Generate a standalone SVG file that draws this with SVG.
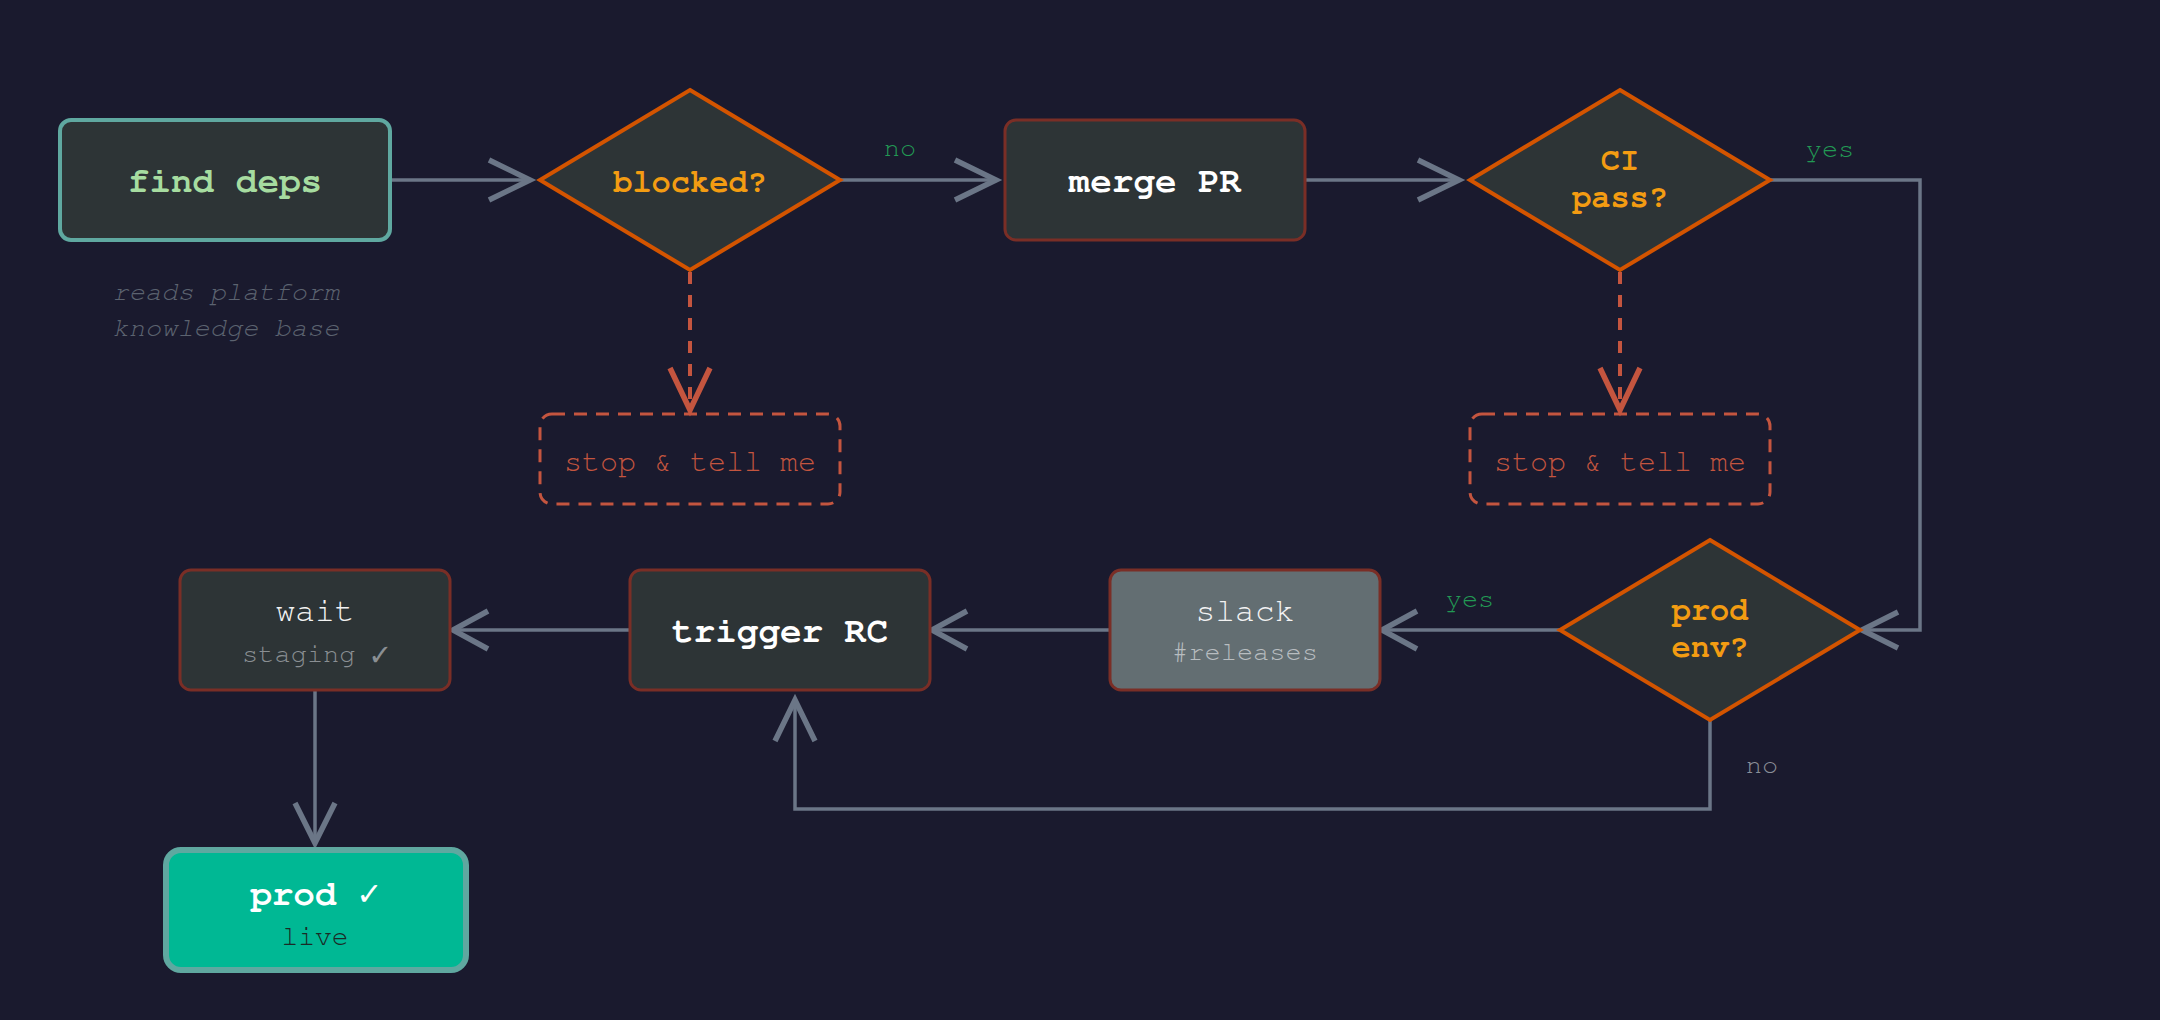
<svg xmlns="http://www.w3.org/2000/svg" width="2160" height="1020" viewBox="0 0 2160 1020">
<style>
text{font-family:"Nimbus Mono PS","Nimbus Mono L","FreeMono","Courier","Courier New","Liberation Mono",monospace;text-anchor:middle}
.box{fill:#2d3436;stroke:#7a2e26;stroke-width:3}
.dia{fill:#2d3436;stroke:#d35400;stroke-width:4;stroke-linejoin:miter}
.title{font-size:36px;font-weight:bold;fill:#ffffff}
.dtxt{font-size:32px;font-weight:bold;fill:#f39c12}
.ntxt{font-size:33px;fill:#f2f2f2}
.sub{font-size:27px;fill:#9aa0a6}
.conn{fill:none;stroke:#6b7687;stroke-width:3.5}
.head{fill:none;stroke:#6b7687;stroke-width:5.5;stroke-linejoin:miter}
.dconn{fill:none;stroke:#c4553f;stroke-width:4;stroke-dasharray:12 11}
.dhead{fill:none;stroke:#c4553f;stroke-width:5.5}
.stop{fill:none;stroke:#c4553f;stroke-width:3;stroke-dasharray:13 9}
.stoptxt{font-size:30px;fill:#c4553f}
.lblg{font-size:27px;fill:#229954}
.lbln{font-size:27px;fill:#8a8f98}
</style>
<rect x="0" y="0" width="2160" height="1020" fill="#1a1a2e"/>

<g id="connectors">
  <line class="conn" x1="390" y1="180" x2="529" y2="180"/>
  <polyline class="head" points="489,160 530,180 489,200"/>
  <line class="conn" x1="840" y1="180" x2="995" y2="180"/>
  <polyline class="head" points="955,160 996,180 955,200"/>
  <text class="lblg" x="900" y="156">no</text>
  <line class="conn" x1="1305" y1="180" x2="1458" y2="180"/>
  <polyline class="head" points="1418,160 1459,180 1418,200"/>
  <polyline class="conn" points="1770,180 1920,180 1920,630 1863,630"/>
  <polyline class="head" points="1898,612 1862,630 1898,648"/>
  <text class="lblg" x="1830" y="157">yes</text>
  <line class="dconn" x1="690" y1="272" x2="690" y2="408"/>
  <polyline class="dhead" points="670,368 690,410 710,368"/>
  <line class="dconn" x1="1620" y1="272" x2="1620" y2="408"/>
  <polyline class="dhead" points="1600,368 1620,410 1640,368"/>
  <line class="conn" x1="1560" y1="630" x2="1383" y2="630"/>
  <polyline class="head" points="1417,611 1382,630 1417,649"/>
  <text class="lblg" x="1470" y="607">yes</text>
  <line class="conn" x1="1110" y1="630" x2="933" y2="630"/>
  <polyline class="head" points="967,611 932,630 967,649"/>
  <line class="conn" x1="630" y1="630" x2="454" y2="630"/>
  <polyline class="head" points="488,611 453,630 488,649"/>
  <polyline class="conn" points="1710,720 1710,809 795,809 795,700"/>
  <polyline class="head" points="775,741 795,700 815,741"/>
  <text class="lbln" x="1762" y="773">no</text>
  <line class="conn" x1="315" y1="690" x2="315" y2="842"/>
  <polyline class="head" points="295,803 315,843 335,803"/>
</g>

<g id="find-deps">
  <rect x="60" y="120" width="330" height="120" rx="11" fill="#2d3436" stroke="#5fa8a0" stroke-width="4"/>
  <text class="title" x="225" y="192" style="fill:#a6dca0">find deps</text>
  <text x="226" y="300" font-size="27" font-style="italic" fill="#5c6370">reads platform</text>
  <text x="226" y="336" font-size="27" font-style="italic" fill="#5c6370">knowledge base</text>
</g>

<g id="blocked">
  <polygon class="dia" points="690,90 840,180 690,270 540,180"/>
  <text class="dtxt" x="690" y="192">blocked?</text>
</g>

<g id="merge-pr">
  <rect class="box" x="1005" y="120" width="300" height="120" rx="11"/>
  <text class="title" x="1155" y="192">merge PR</text>
</g>

<g id="ci-pass">
  <polygon class="dia" points="1620,90 1770,180 1620,270 1470,180"/>
  <text class="dtxt" x="1620" y="170">CI</text>
  <text class="dtxt" x="1620" y="207">pass?</text>
</g>

<g id="stop-1">
  <rect class="stop" x="540" y="414" width="300" height="90" rx="12"/>
  <text class="stoptxt" x="690" y="471">stop &amp; tell me</text>
</g>

<g id="stop-2">
  <rect class="stop" x="1470" y="414" width="300" height="90" rx="12"/>
  <text class="stoptxt" x="1620" y="471">stop &amp; tell me</text>
</g>

<g id="prod-env">
  <polygon class="dia" points="1710,540 1860,630 1710,720 1560,630"/>
  <text class="dtxt" x="1710" y="620">prod</text>
  <text class="dtxt" x="1710" y="657">env?</text>
</g>

<g id="slack">
  <rect x="1110" y="570" width="270" height="120" rx="11" fill="#636e72" stroke="#7a2e26" stroke-width="3"/>
  <text class="ntxt" x="1245" y="621">slack</text>
  <text class="sub" x="1245" y="660" style="fill:#b8bdc0">#releases</text>
</g>

<g id="trigger-rc">
  <rect class="box" x="630" y="570" width="300" height="120" rx="11"/>
  <text class="title" x="780" y="642">trigger RC</text>
</g>

<g id="wait">
  <rect class="box" x="180" y="570" width="270" height="120" rx="11"/>
  <text class="ntxt" x="315" y="621">wait</text>
  <text class="sub" x="315" y="662" style="fill:#8a8f93">staging ✓</text>
</g>

<g id="prod">
  <rect x="166" y="850" width="300" height="120" rx="15" fill="#00b894" stroke="#5fa8a0" stroke-width="6"/>
  <text class="title" x="315" y="905">prod ✓</text>
  <text x="315" y="945" font-size="28" fill="#1b2a26">live</text>
</g>
</svg>
